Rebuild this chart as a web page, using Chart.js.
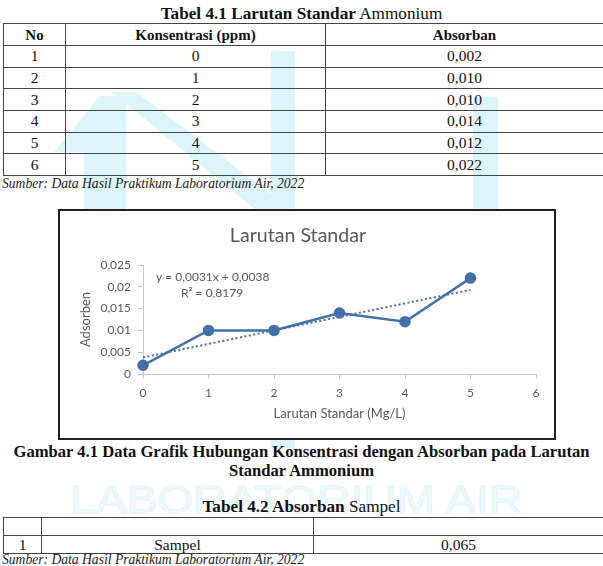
<!DOCTYPE html>
<html>
<head>
<meta charset="utf-8">
<script src="https://cdn.jsdelivr.net/npm/chart.js@4.4.0/dist/chart.umd.min.js"></script>
<style>
  html, body { margin:0; padding:0; background:#fff; }
  body { width:603px; height:566px; position:relative; overflow:hidden; font-family:"Liberation Serif","Times New Roman",serif; color:#111; }
  .abs { position:absolute; }
  .cap { left:0; width:603px; text-align:center; font-size:17.2px; line-height:20px; white-space:nowrap; }
  table { border-collapse:collapse; position:absolute; table-layout:fixed; font-size:15.5px; }
  td, th { border:1px solid #444; text-align:center; padding:0; vertical-align:middle; line-height:16px; }
  th { font-weight:bold; font-size:15px; }
  .src { left:2px; font-style:italic; font-size:13.6px; line-height:16px; color:#222; white-space:nowrap; }
  #frame { left:58px; top:209px; width:498px; height:231px; border:2px solid #222; box-sizing:border-box; background:#fff; }
  #wm { left:0; top:0; }
</style>
</head>
<body>
<svg id="wm" class="abs" width="603" height="566">
  <g fill="#dcf5fa">
    <polygon points="54,152 100,96 126,96 126,209 84,209 84,152"/>
    <polygon points="112,92 136,92 295,212 280,230"/>
    <rect x="271" y="51" width="24" height="397"/>
    <rect x="473" y="97" width="25" height="112"/>
  </g>
  <text x="70" y="513" font-family="Liberation Sans Narrow, Liberation Sans, sans-serif" font-size="38" fill="#eef9fc" stroke="#e2f6fa" stroke-width="1" textLength="452" lengthAdjust="spacingAndGlyphs">LABORATORIUM AIR</text>
</svg>

<div class="abs cap" style="top:4px;"><b>Tabel 4.1 Larutan Standar</b> Ammonium</div>
<table id="t1" style="left:3px; top:23px; width:600px;">
  <colgroup><col style="width:62px"><col style="width:260px"><col style="width:278px"></colgroup>
  <thead><tr style="height:22px"><th>No</th><th>Konsentrasi (ppm)</th><th>Absorban</th></tr></thead>
  <tbody id="t1body"></tbody>
</table>
<div class="abs src" style="top:176px;">Sumber: Data Hasil Praktikum Laboratorium Air, 2022</div>

<div id="frame" class="abs"><canvas id="c" width="494" height="227"></canvas></div>

<div class="abs cap" style="top:442px; font-weight:bold; line-height:19px; font-size:16.6px;">Gambar 4.1 Data Grafik Hubungan Konsentrasi dengan Absorban pada Larutan<br>Standar Ammonium</div>

<div class="abs cap" style="top:497px;"><b>Tabel 4.2 Absorban</b> Sampel</div>
<table id="t2" style="left:3px; top:517px; width:600px;">
  <colgroup><col style="width:38px"><col style="width:272px"><col style="width:290px"></colgroup>
  <tbody>
    <tr style="height:18px"><td></td><td></td><td></td></tr>
    <tr style="height:18px"><td id="s_no"></td><td id="s_name"></td><td id="s_val"></td></tr>
  </tbody>
</table>
<div class="abs src" style="top:552px;">Sumber: Data Hasil Praktikum Laboratorium Air, 2022</div>

<script>
// ---- data ----
const rowNo = ['1','2','3','4','5','6'];
const konsentrasi = [0, 1, 2, 3, 4, 5];
const absorban = [0.002, 0.010, 0.010, 0.014, 0.012, 0.022];
const absorbanText = ['0,002','0,010','0,010','0,014','0,012','0,022'];
const trendX = [0, 5];
const trendY = [0.0038, 0.0193];
const yTickLabels = ['0','0,005','0,01','0,015','0,02','0,025'];
const xTickLabels = ['0','1','2','3','4','5','6'];
const sampleNo = ['1'];
const sampleName = ['Sampel'];
const sampleAbs = ['0,065'];
const eqText = ['y = 0,0031x + 0,0038', 'R\u00B2 = 0,8179'];

// ---- tables ----
const tb = document.getElementById('t1body');
rowNo.forEach((n, i) => {
  const tr = document.createElement('tr');
  tr.style.height = '21.7px';
  [n, String(konsentrasi[i]), absorbanText[i]].forEach(v => {
    const td = document.createElement('td'); td.textContent = v; tr.appendChild(td);
  });
  tb.appendChild(tr);
});
document.getElementById('s_no').textContent = sampleNo[0];
document.getElementById('s_name').textContent = sampleName[0];
document.getElementById('s_val').textContent = sampleAbs[0];

// ---- chart ----
const blue = '#4470AA';
const grey = '#595959';
const axisGrey = '#c8c8c8';
const F = 'Lato, "Open Sans", sans-serif';

const eqPlugin = {
  id: 'eq',
  afterDatasetsDraw(chart) {
    const {ctx, chartArea} = chart;
    ctx.save();
    ctx.fillStyle = grey;
    ctx.font = '12px ' + F;
    ctx.textBaseline = 'middle';
    ctx.textAlign = 'left';
    ctx.fillText(eqText[0], chartArea.left + 13, chartArea.top + 12);
    ctx.fillText(eqText[1], chartArea.left + 38, chartArea.top + 28);
    ctx.restore();
  }
};

new Chart(document.getElementById('c'), {
  type: 'line',
  data: {
    datasets: [
      {
        label: 'Absorban',
        data: konsentrasi.map((x, i) => ({x: x, y: absorban[i]})),
        borderColor: blue, backgroundColor: blue,
        borderWidth: 2.5, pointRadius: 4.5, pointBackgroundColor: blue, pointBorderColor: blue,
        tension: 0, clip: false, order: 1
      },
      {
        label: 'Linear',
        data: trendX.map((x, i) => ({x: x, y: trendY[i]})),
        borderColor: blue, borderWidth: 2, borderDash: [2, 2.5],
        pointRadius: 0, tension: 0, clip: false, order: 2
      }
    ]
  },
  options: {
    responsive: false,
    animation: false,
    devicePixelRatio: 1,
    layout: { padding: { left: 0, right: 18, top: 0, bottom: 0 } },
    plugins: {
      legend: { display: false },
      tooltip: { enabled: false },
      title: {
        display: true, text: 'Larutan Standar', color: grey,
        font: { family: F, size: 19.6, weight: 'normal' },
        padding: { top: 13, bottom: 17.5 }
      }
    },
    scales: {
      x: {
        type: 'linear', min: 0, max: 6,
        afterFit: s => { s.height = 64; },
        grid: { display: true, drawOnChartArea: false, drawTicks: true, tickLength: 5, color: axisGrey },
        border: { display: true, color: axisGrey, width: 1 },
        ticks: { stepSize: 1, color: grey, padding: 7, font: { family: F, size: 12 },
                 callback: (v, i) => xTickLabels[i] },
        title: { display: true, text: 'Larutan Standar (Mg/L)', color: grey,
                 font: { family: F, size: 13 }, padding: { top: 0, bottom: 16 } }
      },
      y: {
        min: 0, max: 0.025,
        afterFit: s => { s.width = 83; },
        grid: { display: true, drawOnChartArea: false, drawTicks: true, tickLength: 5, color: axisGrey },
        border: { display: true, color: axisGrey, width: 1 },
        ticks: { stepSize: 0.005, color: grey, padding: 7, font: { family: F, size: 12 },
                 callback: (v, i) => yTickLabels[i] },
        title: { display: true, text: 'Adsorben', color: grey,
                 font: { family: F, size: 13 }, padding: { top: 18, bottom: 0 } }
      }
    }
  },
  plugins: [eqPlugin]
});
</script>
</body>
</html>
